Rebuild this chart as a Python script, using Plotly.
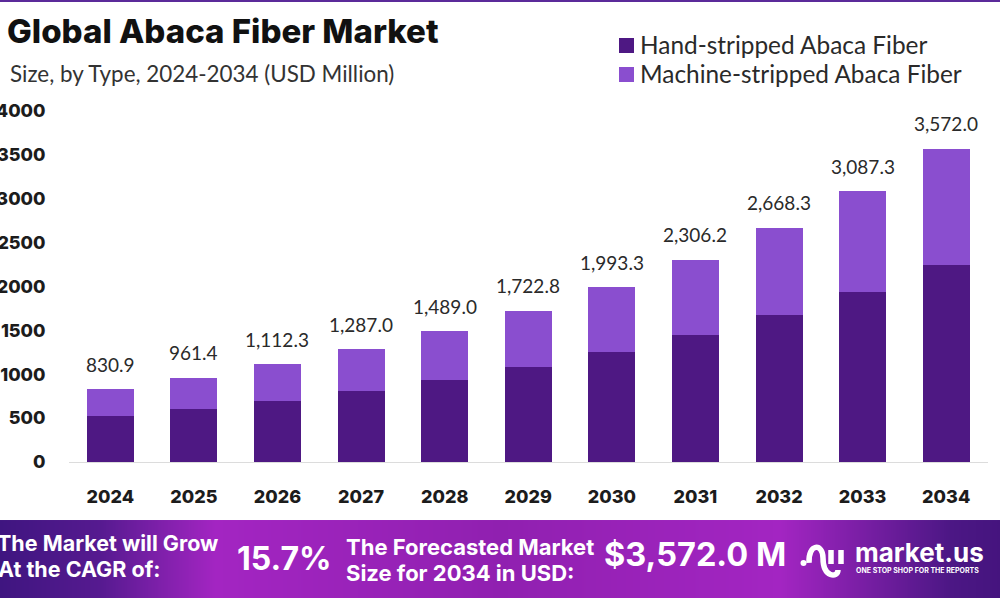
import plotly.graph_objects as go

years = ["2024", "2025", "2026", "2027", "2028", "2029", "2030", "2031", "2032", "2033", "2034"]
totals = [830.9, 961.4, 1112.3, 1287.0, 1489.0, 1722.8, 1993.3, 2306.2, 2668.3, 3087.3, 3572.0]
hand = [520, 603, 698, 807, 934, 1080, 1250, 1446, 1673, 1936, 2240]
machine = [310.9, 358.4, 414.3, 480.0, 555.0, 642.8, 743.3, 860.2, 995.3, 1151.3, 1332.0]
y_ticks = [0, 500, 1000, 1500, 2000, 2500, 3000, 3500, 4000]
hand_name = "Hand-stripped Abaca Fiber"
machine_name = "Machine-stripped Abaca Fiber"

DARK = "#4e1883"
LIGHT = "#8a4ecf"
BODY_FONT = "Lato"
HEAD_FONT = "Inter"

fig = go.Figure()
fig.add_bar(x=years, y=hand, name=hand_name, marker_color=DARK, marker_line_width=0, width=0.562)
fig.add_bar(x=years, y=machine, name=machine_name, marker_color=LIGHT, marker_line_width=0, width=0.562)

# gradient footer band, drawn as a heatmap on its own axes
fig.add_heatmap(
    x=[0, 1], y=[0, 1], z=[[0, 1], [0, 1]], xaxis="x2", yaxis="y2", showscale=False, zsmooth="best",
    colorscale=[[0, "#3f1580"], [0.1, "#561a90"], [0.215, "#a325c2"], [0.5, "#9020b0"],
                [0.78, "#a325c2"], [0.95, "#4c1785"], [1, "#45147e"]],
    hoverinfo="skip",
)

fig.update_layout(
    width=1000, height=600, autosize=False,
    margin=dict(l=0, r=0, t=0, b=0),
    paper_bgcolor="white", plot_bgcolor="white",
    barmode="stack", showlegend=False,
    font=dict(family=BODY_FONT),
    xaxis=dict(
        domain=[0.0685, 0.988], anchor="y", showgrid=False, type="category", automargin=False,
        range=[-0.5, 10.5], showline=True, linecolor="#dcdcdc", linewidth=1,
        ticklabelstandoff=18, ticks="",
        tickfont=dict(family=HEAD_FONT, size=18, color="#1c1c1c", weight=800),
    ),
    yaxis=dict(
        domain=[0.23, 0.815], anchor="x", range=[0, 4000], showgrid=False, zeroline=False,
        automargin=False, tickvals=y_ticks, ticklabelstandoff=22, ticks="",
        tickfont=dict(family=HEAD_FONT, size=18, color="#1c1c1c", weight=800),
    ),
    xaxis2=dict(domain=[0, 1], anchor="y2", range=[0, 1], visible=False, fixedrange=True, automargin=False),
    yaxis2=dict(domain=[0.0033, 0.1333], anchor="x2", range=[0, 1], visible=False, fixedrange=True,
                automargin=False),
)

# totals above the stacks; x is the category index because "2024" would read as a number
for i, total in enumerate(totals):
    fig.add_annotation(
        x=i, y=total, xref="x", yref="y", text=f"{total:,.1f}", showarrow=False,
        yanchor="middle", yshift=25,
        font=dict(family=BODY_FONT, size=19, color="#2a2a2a"),
    )


def px_x(x):
    return x / 1000


def px_y(y):
    return 1 - y / 600


def note(text, x, y, size, color="white", family=HEAD_FONT, weight=700):
    fig.add_annotation(
        text=text, xref="paper", yref="paper", x=px_x(x), y=px_y(y), showarrow=False,
        xanchor="left", yanchor="middle", align="left", xshift=-2,
        font=dict(family=family, size=size, color=color, weight=weight),
    )


def rect(x0, y0, x1, y1, color):
    fig.add_shape(type="rect", xref="paper", yref="paper", x0=px_x(x0), x1=px_x(x1),
                  y0=px_y(y0), y1=px_y(y1), fillcolor=color, line_width=0)


note("Global Abaca Fiber Market", 7, 31, 33, color="#111111", weight=800)
note("Size, by Type, 2024-2034 (USD Million)", 10, 74, 22.4, color="#333333", family=BODY_FONT, weight=400)

# legend
rect(619, 38, 634, 53, DARK)
rect(619, 67, 634, 82, LIGHT)
note(hand_name, 640, 45, 24.4, color="#2a2a2a", family=BODY_FONT, weight=400)
note(machine_name, 640, 73, 24.4, color="#2a2a2a", family=BODY_FONT, weight=400)

# top rule
rect(0, 0, 1000, 2, "#5b2a9a")

# footer texts
note("The Market will Grow", -3, 543, 21.5)
note("At the CAGR of:", -2, 569, 21.5)
note("15.7%", 237, 558, 32)
note("The Forecasted Market", 346, 547, 22)
note("Size for 2034 in USD:", 346, 573, 22)
note("$3,572.0 M", 604, 554, 32.5)
note("market.us", 855, 552, 26)
note("ONE STOP SHOP FOR THE REPORTS", 856, 570.5, 7)

# logo mark
fig.add_shape(type="circle", xref="paper", yref="paper", fillcolor="white", line_width=0,
              x0=px_x(800.5), x1=px_x(806.5), y0=px_y(566), y1=px_y(560))
logo_paths = [
    [(809, 563), (808, 543), (823, 543), (823, 558), (823, 578), (838, 578), (838, 570)],
    [(831, 550), (831, 564)],
    [(841, 550), (841, 564)],
]
for pts in logo_paths:
    coords = [f"{px_x(a):.4f},{px_y(b):.4f}" for a, b in pts]
    if len(coords) == 2:
        path = f"M {coords[0]} L {coords[1]}"
    else:
        path = f"M {coords[0]} C {coords[1]} {coords[2]} {coords[3]} C {coords[4]} {coords[5]} {coords[6]}"
    fig.add_shape(type="path", xref="paper", yref="paper", path=path,
                  line=dict(color="white", width=5.5))

# drop the browser's default page margin so the figure sits at 0,0
fig.write_html(
    "out.html",
    config={"displayModeBar": False},
    post_script="document.body.style.margin='0';document.body.style.overflow='hidden';",
)
